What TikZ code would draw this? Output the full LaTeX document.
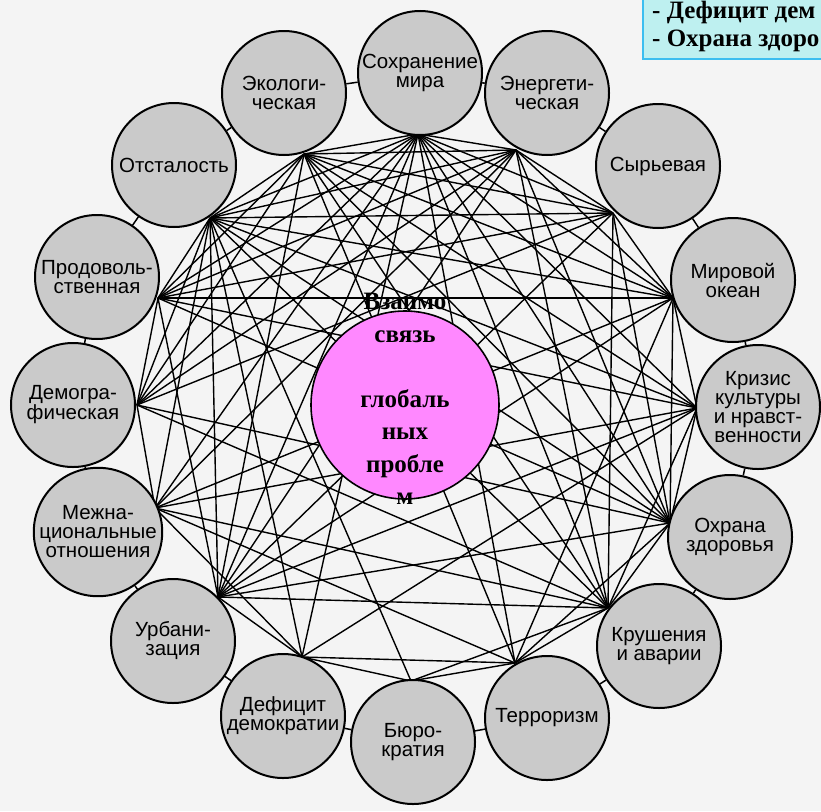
\documentclass[tikz,border=0pt]{standalone}
\usepackage{fontspec}
\setmainfont{Liberation Serif}
\newfontfamily\circfont{Liberation Sans}
\definecolor{bgpaper}{RGB}{244,244,244}
\definecolor{circfill}{RGB}{202,202,202}
\definecolor{pinkc}{RGB}{255,136,255}
\definecolor{boxfill}{RGB}{190,240,240}
\definecolor{boxline}{RGB}{60,190,240}
\pgfdeclarelayer{paper}
\pgfdeclarelayer{links}
\pgfdeclarelayer{front}
\pgfsetlayers{paper,links,main,front}
\tikzset{
  prob/.style={circle, draw=black, line width=2pt, fill=circfill, minimum size=124pt,
    inner sep=0pt, align=center, font=\circfont\fontsize{20.5}{19}\selectfont},
  link/.style={line width=1.4pt, black},
  ringlink/.style={line width=1.5pt, black},
  centre/.style={circle, draw=black, line width=1.6pt, fill=pinkc, minimum size=188pt, inner sep=0pt},
  centretext/.style={align=center, font=\bfseries\fontsize{25}{32.5}\selectfont},
  boxtext/.style={anchor=base west, inner sep=0pt, font=\bfseries\fontsize{25}{30}\selectfont},
}
\begin{document}
\begin{tikzpicture}[x=1pt,y=-1pt]
\begin{pgfonlayer}{paper}
\fill[bgpaper] (0,0) rectangle (821,811);
\end{pgfonlayer}
\useasboundingbox (0,0) rectangle (821,811);

% problem circles
\node[prob] (cA) at (420,73)  {Сохранение\\мира};
\node[prob] (cB) at (284,93)  {Экологи-\\ческая};
\node[prob] (cC) at (547,93)  {Энергети-\\ческая};
\node[prob] (cD) at (174,165) {Отсталость};
\node[prob] (cE) at (658,166) {Сырьевая};
\node[prob] (cF) at (97,277)  {Продоволь-\\ственная};
\node[prob] (cG) at (733,280) {Мировой\\океан};
\node[prob] (cH) at (73,405)  {Демогра-\\фическая};
\node[prob] (cI) at (758,407) {Кризис\\культуры\\и нравст-\\венности};
\node[prob] (cJ) at (98,532)  {Межна-\\циональные\\отношения};
\node[prob] (cK) at (730,537) {Охрана\\здоровья};
\node[prob] (cL) at (173,641) {Урбани-\\зация};
\node[prob] (cM) at (659,646) {Крушения\\и аварии};
\node[prob] (cN) at (283,716) {Дефицит\\демократии};
\node[prob] (cO) at (547,718) {Терроризм};
\node[prob] (cP) at (413,742) {Бюро-\\кратия};

% ring connectors between neighbouring circles
\foreach \a/\b in {cB/cA, cA/cC, cC/cE, cE/cG, cG/cI, cI/cK, cK/cM, cM/cO,
                   cO/cP, cP/cN, cN/cL, cL/cJ, cJ/cH, cH/cF, cF/cD, cD/cB}
  \draw[ringlink] (\a) -- (\b);

% hubs where the connecting lines meet
\coordinate (hA) at (418,134);
\coordinate (hB) at (304,154);
\coordinate (hC) at (516,150);
\coordinate (hD) at (210,218);
\coordinate (hE) at (613,213);
\coordinate (hF) at (158,298);
\coordinate (hG) at (673,298);
\coordinate (hH) at (137,405);
\coordinate (hI) at (697,408);
\coordinate (hJ) at (155,508);
\coordinate (hK) at (670,523);
\coordinate (hL) at (218,597);
\coordinate (hM) at (608,608);
\coordinate (hN) at (302,657);
\coordinate (hO) at (515,663);
\coordinate (hP) at (411,681);

\begin{pgfonlayer}{links}
\foreach \a/\b in {hA/hB, hA/hC, hA/hD, hA/hF, hA/hH, hA/hJ, hA/hL, hA/hN, hA/hO, hA/hM, hA/hK, hA/hI, hA/hG, hA/hE,
  hB/hC, hB/hD, hB/hF, hB/hH, hB/hL, hB/hO, hB/hM, hB/hK, hB/hI, hB/hG, hB/hE,
  hC/hD, hC/hF, hC/hH, hC/hJ, hC/hL, hC/hM, hC/hK, hC/hE, hC/hG,
  hD/hF, hD/hH, hD/hJ, hD/hL, hD/hN, hD/hP, hD/hM, hD/hK, hD/hI, hD/hG, hD/hE,
  hE/hF, hE/hH, hE/hL, hE/hM, hE/hG, hE/hK,
  hF/hG, hF/hH, hF/hL, hF/hI, hF/hK,
  hG/hL, hG/hK, hG/hI, hG/hJ, hG/hO,
  hH/hK, hH/hM, hH/hJ,
  hI/hN, hI/hK, hI/hJ, hI/hL, hI/hM,
  hJ/hO, hJ/hN, hJ/hM,
  hK/hM, hK/hO, hK/hL,
  hL/hM, hL/hN,
  hM/hP, hM/hO,
  hN/hO, hN/hP,
  hO/hP}
  \draw[link] (\a) -- (\b);
\end{pgfonlayer}

% centre
\node[centre] (centre) at (405,405) {};
\begin{pgfonlayer}{front}
\node[centretext] (ctext) at (405,399) {Взаимо\\связь\\\mbox{}\\глобаль\\ных\\пробле\\м};
\node[draw=boxline, line width=1.6pt, fill=boxfill, anchor=south west,
      minimum width=200pt, minimum height=90pt, inner sep=0pt] (box) at (642,60) {};
\node[boxtext] (line1) at (652,18) {- Дефицит дем};
\node[boxtext] (line2) at (652,46) {- Охрана здоро};
\end{pgfonlayer}
\end{tikzpicture}
\end{document}
